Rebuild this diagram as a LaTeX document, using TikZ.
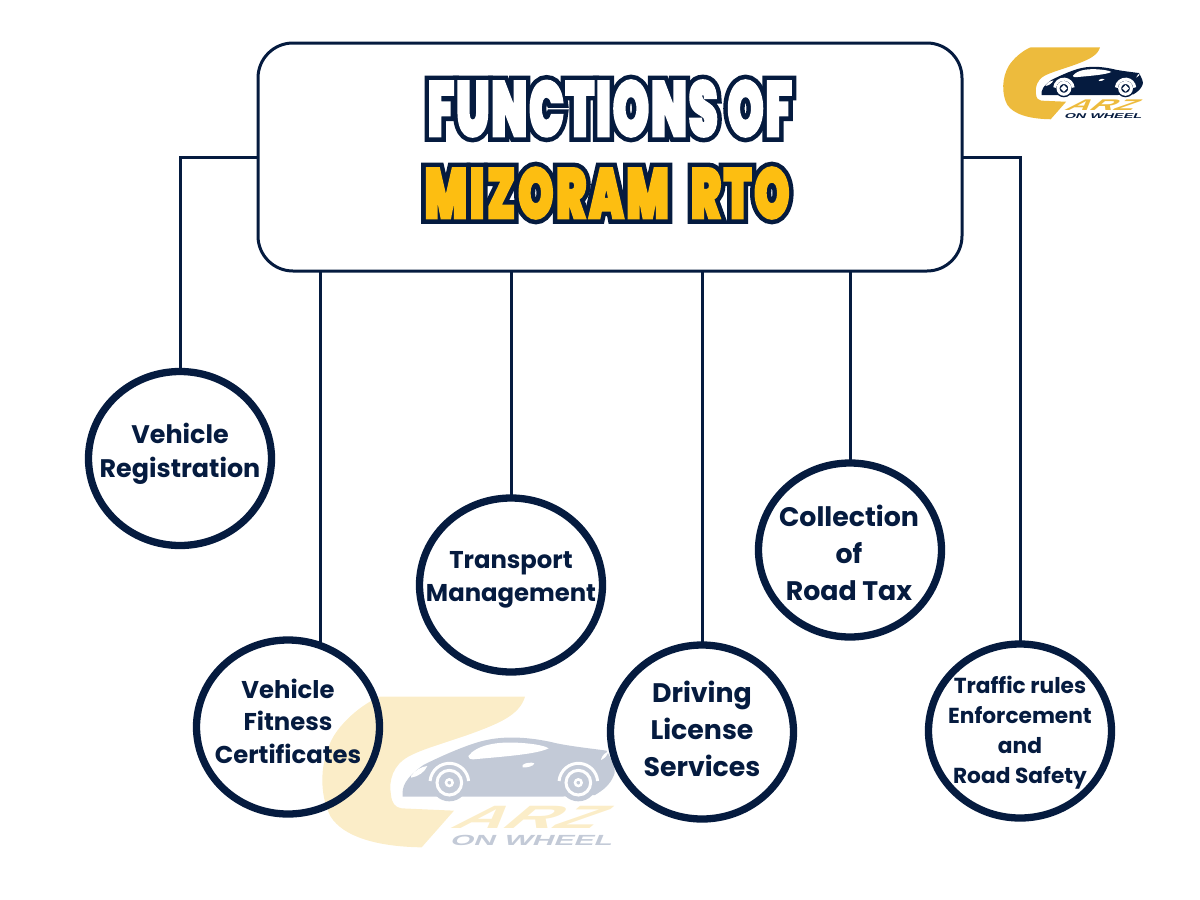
\documentclass[tikz,border=0pt]{standalone}
\usepackage{fontspec}
\usetikzlibrary{shapes.geometric}
\setmainfont{Poppins}
\newfontfamily\titlefont[FakeStretch=0.59,LetterSpace=2.5]{Poppins Black}
\newfontfamily\rtofont[FakeStretch=0.63,LetterSpace=4]{Poppins Black}
\newfontfamily\logofont{Liberation Sans}
\definecolor{navy}{HTML}{051B3F}
\definecolor{gold}{HTML}{FDBE11}
\definecolor{logoyellow}{HTML}{EDBB3D}
\definecolor{paleyellow}{HTML}{FBEDC8}
\definecolor{palenavy}{HTML}{C3CAD7}
\newsavebox{\lineonebox}
\newsavebox{\linetwobox}
\AtBeginDocument{%
\setbox\lineonebox=\hbox{\titlefont\fontsize{78}{78}\selectfont FUNCTIONS OF}%
\setbox\linetwobox=\hbox{\rtofont\fontsize{71}{71}\selectfont MIZORAM\hspace{22pt}RTO}%
}
\newcommand{\titlepen}[2]{\special{pdf:code #1 RG 2 Tr #2 w 2 M}}
\tikzset{
  ring/.style={ellipse,draw=navy,line width=7.3pt,outer sep=0pt,inner sep=0pt,minimum width=183pt,minimum height=174pt},
  ringtext/.style={inner sep=0pt,align=center,text=navy},
  link/.style={draw=navy,line width=3pt},
  titletext/.style={inner sep=0pt},
  big/.style={ringtext,font=\bfseries\fontsize{26.8}{37}\selectfont},
  mid/.style={ringtext,font=\bfseries\fontsize{25.4}{34}\selectfont},
  small/.style={ringtext,font=\bfseries\fontsize{24.3}{32.5}\selectfont},
  tiny/.style={ringtext,font=\bfseries\fontsize{21.7}{30}\selectfont}
}
\begin{document}
\begin{tikzpicture}[x=1pt,y=-1pt]
\newcommand{\carzlogo}[3]{%
\fill[#2] (210,50) -- (645,50) .. controls (630,100) and (580,125) .. (500,155) .. controls (420,185) and (340,205) .. (295,230) .. controls (250,255) and (235,300) .. (243,345) .. controls (246,370) and (255,382) .. (275,385) -- (432,392) -- (335,502) .. controls (200,500) and (100,470) .. (62,410) .. controls (25,340) and (30,240) .. (70,170) .. controls (100,120) and (160,70) .. (210,50) -- cycle;
\fill[#3] (278,350) .. controls (275,320) and (285,295) .. (340,255) .. controls (400,225) and (480,190) .. (530,180) .. controls (600,165) and (680,175) .. (740,190) .. controls (790,200) and (840,205) .. (890,212) .. controls (905,240) and (920,270) .. (912,285) .. controls (900,315) and (880,330) .. (855,345) -- (750,350) -- (470,350) -- (360,350) -- cycle;
\fill[white] (475,228) .. controls (500,195) and (560,185) .. (620,188) .. controls (660,190) and (700,195) .. (716,205) .. controls (680,222) and (600,228) .. (490,238) .. controls (480,238) and (475,235) .. (475,228) -- cycle;
\fill[white] (303,288) .. controls (315,270) and (335,260) .. (352,258) .. controls (345,275) and (325,290) .. (303,293) -- cycle;
\fill[white] (638,255) .. controls (645,248) and (665,246) .. (673,250) .. controls (672,258) and (650,264) .. (638,262) -- cycle;
\fill[white] (873,238) .. controls (878,225) and (885,218) .. (895,214) .. controls (893,225) and (885,235) .. (873,240) -- cycle;
\foreach \wheelx in {418,805} {
\fill[#3] (\wheelx,308) circle (56);
\draw[white,line width=3] (\wheelx,308) ++(185:58) arc (185:355:58);
\draw[white,line width=3] (\wheelx,308) circle (37);
\draw[white,line width=2.5] (\wheelx,308) circle (10);
}
\node[#2,inner sep=0pt,transform shape,xscale=2.15,xslant=0.55,font=\logofont\bfseries\fontsize{97}{97}\selectfont] (#1arz) at (670,413) {ARZ};
\node[#3,inner sep=0pt,transform shape,xscale=2.05,xslant=0.2,font=\logofont\bfseries\fontsize{44}{44}\selectfont] (#1wheel) at (668,481) {ON WHEEL};
}
\begin{scope}[shift={(310,680)},scale=1/3]
\carzlogo{wm}{paleyellow}{palenavy}
\end{scope}
\begin{scope}[shift={(997.3,39.3)},scale=0.1593]
\carzlogo{top}{logoyellow}{navy}
\end{scope}
\node[draw=navy,line width=3pt,rounded corners=35pt,minimum width=704pt,minimum height=228pt,outer sep=0pt] (title) at (610,157) {};
\node[titletext,text=navy] (lineoneback) at (610,108.5) {\titlepen{0.02 0.106 0.247}{11}\usebox{\lineonebox}};
\node[titletext,text=white] (lineone) at (610,108.5) {\titlepen{1 1 1}{2}\usebox{\lineonebox}};
\node[titletext,text=navy] (linetwoback) at (607,193) {\titlepen{0.02 0.106 0.247}{11}\usebox{\linetwobox}};
\node[titletext,text=gold] (linetwo) at (607,193) {\titlepen{0.992 0.745 0.067}{2}\usebox{\linetwobox}};
\node[ring] (registration) at (180,458.5) {};
\node[ring] (fitness) at (288,727) {};
\node[ring] (transport) at (511,585) {};
\node[ring] (driving) at (702,732) {};
\node[ring] (tax) at (850,550) {};
\node[ring] (traffic) at (1020,731) {};
\node[mid] (registrationtext) at (180,453.5) {Vehicle\\Registration};
\node[small] (fitnesstext) at (288,721) {Vehicle\\Fitness\\Certificates};
\node[small] (transporttext) at (511,580) {Transport\\Management};
\node[big] (drivingtext) at (702,729) {Driving\\License\\Services};
\node[big] (taxtext) at (849,553) {Collection\\of\\Road Tax};
\node[tiny] (traffictext) at (1020,732.5) {Traffic rules\\Enforcement\\and\\Road Safety};
\draw[link] (title.west |- 0,157) -- (registration.north |- 0,157) -- (registration.north);
\draw[link] (title.south -| fitness.68) -- (fitness.68);
\draw[link] (title.south -| transport.north) -- (transport.north);
\draw[link] (title.south -| driving.north) -- (driving.north);
\draw[link] (title.south -| tax.north) -- (tax.north);
\draw[link] (title.east |- 0,157) -- (traffic.north |- 0,157) -- (traffic.north);
\useasboundingbox (0,0) rectangle (1200,900);
\end{tikzpicture}
\end{document}
